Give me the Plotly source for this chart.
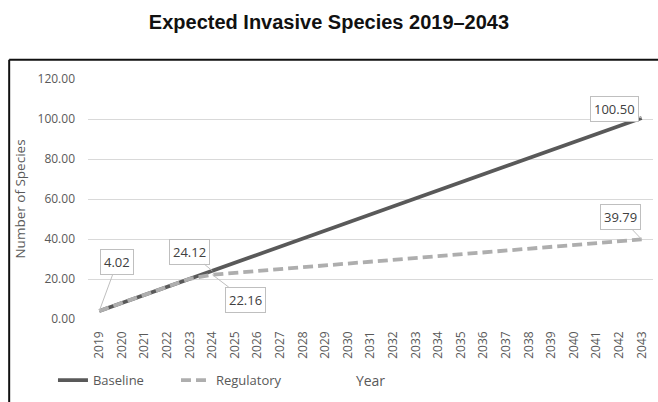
import plotly.graph_objects as go

years = [str(y) for y in range(2019, 2044)]
baseline = [4.02, 8.04, 12.06, 16.08, 20.10, 24.12, 28.14, 32.16, 36.18, 40.20,
            44.22, 48.24, 52.26, 56.28, 60.30, 64.32, 68.34, 72.36, 76.38, 80.40,
            84.42, 88.44, 92.46, 96.48, 100.50]
regulatory = [4.02, 8.04, 12.06, 16.08, 20.10, 22.16, 23.09, 24.02, 24.94, 25.87,
              26.80, 27.73, 28.66, 29.58, 30.51, 31.44, 32.37, 33.30, 34.22, 35.15,
              36.08, 37.01, 37.93, 38.86, 39.79]
y_ticks = [0, 20, 40, 60, 80, 100, 120]

# labelled points: (series, index, x offset px, y offset px)
labels = [
    (baseline, 0, 18, -49),
    (baseline, 5, -23, -19),
    (regulatory, 5, 33, 25),
    (baseline, 24, -27, -9),
    (regulatory, 24, -21, -22),
]

fig = go.Figure()
fig.add_trace(go.Scatter(x=years, y=baseline, mode="lines", name="Baseline",
                         line=dict(color="#595959", width=3.8)))
fig.add_trace(go.Scatter(x=years, y=regulatory, mode="lines", name="Regulatory",
                         line=dict(color="#aeaeae", width=3.8, dash="10px,5px")))

for series, i, dx, dy in labels:
    fig.add_annotation(x=i, y=series[i], xref="x", yref="y", text=f"{series[i]:.2f}",
                       showarrow=True, arrowhead=0, arrowwidth=1, arrowcolor="#bfbfbf",
                       ax=dx, ay=dy, bordercolor="#bfbfbf", borderwidth=1, borderpad=3,
                       bgcolor="white", font=dict(family="Open Sans", size=13, color="#404040"))

tick_font = dict(family="Open Sans", size=12, color="#595959")

fig.update_layout(
    width=658, height=402,
    margin=dict(l=88, r=5, t=79, b=83),
    paper_bgcolor="white", plot_bgcolor="white",
    title=dict(text="<b>Expected Invasive Species 2019–2043</b>", x=0.5, xref="container",
               xanchor="center", y=0.945, yref="container", yanchor="middle",
               font=dict(family="Liberation Sans", size=20, color="#111111")),
    showlegend=True,
    legend=dict(orientation="h", x=-0.062, xanchor="left", y=-0.255, yanchor="middle",
                font=dict(family="Open Sans", size=13, color="#595959"),
                entrywidth=78, entrywidthmode="pixels", bgcolor="rgba(0,0,0,0)"),
    xaxis=dict(type="category", range=[-0.5, 24.5], tickangle=-90, tickfont=tick_font,
               showgrid=False, showline=False, ticks="", ticklabelstandoff=9,
               title=dict(text="Year", font=dict(family="Open Sans", size=14, color="#595959"), standoff=18)),
    yaxis=dict(range=[0, 120], tickvals=y_ticks, tickformat=".2f", tickfont=tick_font,
               showgrid=True, gridcolor="#d9d9d9", gridwidth=1, zeroline=False, showline=False,
               ticks="", ticklen=0, ticklabelstandoff=12,
               title=dict(text="Number of Species", font=dict(family="Open Sans", size=13.5, color="#595959"), standoff=8)),
)

# frame around the chart area
fig.add_shape(type="line", xref="paper", yref="paper", x0=-0.1395, x1=-0.1395, y0=-0.4, y1=1.08,
              line=dict(color="#111111", width=2))
fig.add_shape(type="line", xref="paper", yref="paper", x0=-0.1395, x1=1.05, y0=1.08, y1=1.08,
              line=dict(color="#111111", width=2))

fig.write_html("out.html")
